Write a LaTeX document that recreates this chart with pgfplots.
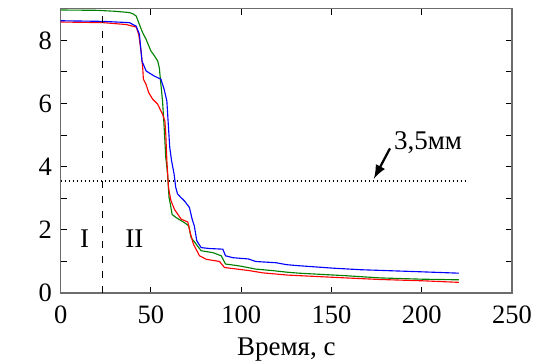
\documentclass[border=0pt]{standalone}
\usepackage{fontspec}
\setmainfont{Liberation Serif}
\usepackage{pgfplots}
\pgfplotsset{compat=1.18}
\definecolor{cgreen}{RGB}{0,128,0}
\definecolor{cred}{RGB}{255,0,0}
\definecolor{cblue}{RGB}{0,0,255}
\newcommand{\tl}[1]{\textrm{\fontsize{10.6}{12}\selectfont #1}}
\begin{document}
\begin{tikzpicture}
\begin{axis}[
  name=ax,
  scale only axis,
  width=180.6pt, height=113.8pt,
  xmin=0, xmax=250, ymin=0, ymax=9,
  xtick={0,50,100,150,200,250},
  xticklabels={\tl{0},\tl{50},\tl{100},\tl{150},\tl{200},\tl{250}},
  ytick={0,1,2,3,4,5,6,7,8},
  yticklabels={\tl{0},,\tl{2},,\tl{4},,\tl{6},,\tl{8}},
  tick align=inside,
  major tick length=2.4pt,
  axis line style={gray!85!black, line width=0.6pt},
  every tick/.style={black, line width=0.4pt},
  xticklabel style={yshift=-1.5pt},
  label style={font=\rmfamily\fontsize{10.8}{12}\selectfont},
  xlabel={Время, с},
  xlabel style={yshift=1pt},
  clip=false,
]
\addplot[cgreen, line width=0.45pt] coordinates {
(0,8.96) (20,8.95) (30,8.92) (38,8.88) (40,8.84) (41.8,8.77) (43.6,8.5) (45.4,8.24) (47.3,8.03) (50,7.66) (51.3,7.56) (53.7,7.35) (54.6,7.14) (55.5,6.6) (56.4,6.08) (57.3,5.24) (58.2,4.29) (59.2,3.77) (60,3.03) (60.6,2.86) (61.7,2.49) (63.9,2.39) (68.5,2.23) (70.9,2.13) (72.2,1.76) (75,1.55) (77.8,1.34) (84.3,1.28) (88.9,1.18) (91.3,0.92) (99,0.86) (108,0.76) (117.6,0.71) (125.6,0.66) (132,0.63) (158,0.55) (177,0.48) (200,0.44) (220.6,0.42)
};
\addplot[cred, line width=0.45pt] coordinates {
(0,8.58) (23.5,8.56) (36.3,8.5) (41.8,8.42) (43.2,8.19) (44.5,7.66) (45.4,7.14) (45.8,6.77) (47.3,6.6) (48.7,6.35) (50.9,6.14) (53.7,5.98) (56.4,5.66) (57.7,5.45) (58.2,5.03) (58.8,4.19) (59.7,3.35) (60.2,3.18) (61.1,2.92) (63,2.65) (66.7,2.34) (70.4,2.25) (71.7,1.92) (73.5,1.55) (76.9,1.18) (80.6,1.07) (88,1.0) (90.7,0.81) (104.6,0.71) (112,0.64) (125.6,0.57) (158,0.48) (177,0.43) (200,0.39) (220.6,0.34)
};
\addplot[cblue, line width=0.45pt] coordinates {
(0,8.62) (23.5,8.6) (38,8.56) (41.8,8.45) (43.6,8.19) (45,7.35) (47.3,7.03) (51.8,6.87) (55.5,6.77) (57.3,6.45) (58.8,6.08) (59.7,5.24) (60.4,4.61) (61.4,4.19) (62.8,3.77) (63.7,3.35) (64.7,3.14) (66.5,3.03) (68.5,2.92) (71.3,2.71) (72.8,2.34) (74,2.13) (75.4,1.65) (77.8,1.44) (82.4,1.41) (89.8,1.39) (91.3,1.18) (95.4,1.12) (104,1.08) (108,1.0) (119.4,0.96) (125,0.9) (131,0.87) (150.5,0.79) (166,0.74) (196.6,0.68) (220.6,0.63)
};
\addplot[black, dashed, line width=0.4pt] coordinates {(22.9,0) (22.9,8.9)};
\addplot[black, densely dotted, line width=0.6pt] coordinates {(0,3.55) (225.8,3.55)};
\addplot[black, line width=0.9pt, -latex] coordinates {(182.4,4.58) (173.5,3.62)};
\node[anchor=west, inner sep=0pt, font=\rmfamily\fontsize{10.8}{12}\selectfont] at (axis cs:184.4,4.76) {3,5мм};
\node[font=\rmfamily\fontsize{10.8}{12}\selectfont] at (axis cs:13.3,1.72) {I};
\node[font=\rmfamily\fontsize{10.8}{12}\selectfont] at (axis cs:40.8,1.72) {II};
\end{axis}
\pgfresetboundingbox
\path[use as bounding box] ([shift={(-24.3pt,-27.2pt)}]ax.south west) rectangle ([shift={(12.8pt,3.5pt)}]ax.north east);
\end{tikzpicture}
\end{document}
